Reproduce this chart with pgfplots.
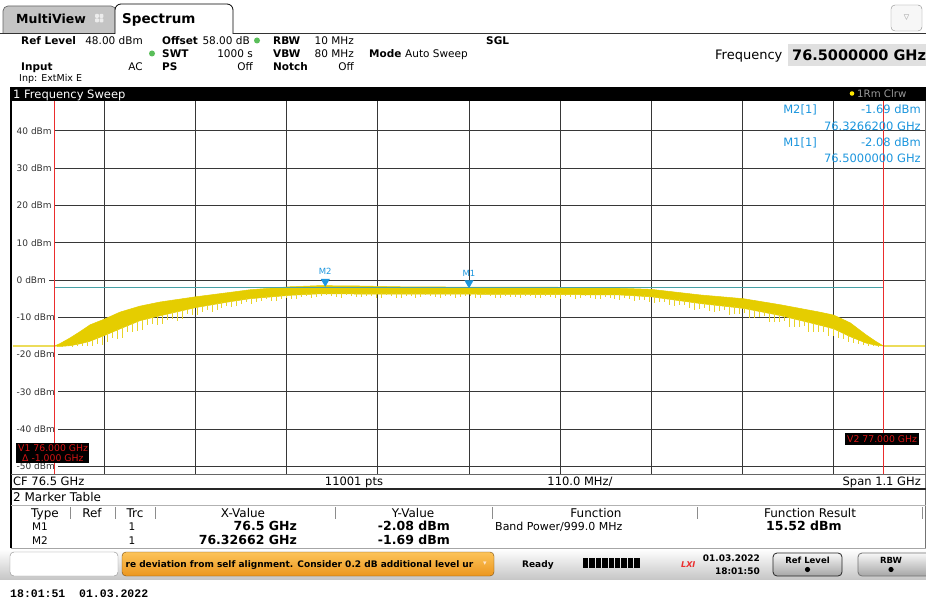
\documentclass[border=0pt]{standalone}
\usepackage{pgfplots}
\pgfplotsset{compat=1.18}
\usepackage{fontspec}
\setmainfont{DejaVu Sans}
\newfontfamily\lmono{Liberation Mono}
\definecolor{trc}{RGB}{229,205,0}
\definecolor{trcl}{RGB}{236,220,90}
\definecolor{trcs}{RGB}{232,211,40}
\definecolor{mblue}{RGB}{28,150,222}
\definecolor{tealc}{RGB}{70,160,165}
\definecolor{vred}{RGB}{235,45,45}
\definecolor{vtxt}{RGB}{215,20,20}
\definecolor{gridc}{RGB}{55,55,55}
\definecolor{tabgray}{RGB}{196,196,196}
\definecolor{ortop}{RGB}{252,196,90}
\definecolor{orbot}{RGB}{236,150,30}
\definecolor{dotg}{RGB}{90,190,90}
\newcommand{\fs}[1]{\fontsize{#1}{#1}\selectfont}
\pgfplotsset{spikes/.style={draw=none, mark=none, forget plot,
  error bars/.cd, y dir=minus, y explicit, error mark=none,
  error bar style={draw=trcs, line width=0.9pt}}}
\begin{document}
\begin{tikzpicture}
\path[use as bounding box, fill=white] (0pt,0pt) rectangle (926pt,-601pt);
\begin{axis}[
  at={(13pt,-474pt)}, anchor=south west, scale only axis,
  width=912pt, height=373pt,
  xmin=75.95, xmax=77.05, ymin=-52, ymax=48,
  xtick={76.06,76.17,76.28,76.39,76.50,76.61,76.72,76.83,76.94},
  xticklabels={},
  ytick={-50,-40,-30,-20,-10,0,10,20,30,40},
  yticklabels={-50 dBm,-40 dBm,-30 dBm,-20 dBm,-10 dBm,0 dBm,10 dBm,20 dBm,30 dBm,40 dBm},
  yticklabel style={anchor=west, xshift=0pt, fill=white, inner ysep=0.8pt, inner xsep=3.5pt, font=\fs{9}, text=black!80},
  major tick length=0pt,
  grid=major, major grid style={draw=gridc, line width=0.9pt},
  axis line style={draw=none},
  clip=true,
]
% trace band (upper envelope, then lower envelope back)
\addplot[fill=trc, draw=trc, line width=0.5pt] table {
76.000 -17.7
76.007 -17.0
76.019 -15.5
76.031 -13.8
76.043 -12.0
76.060 -10.5
76.079 -8.6
76.103 -7.0
76.127 -5.9
76.170 -4.5
76.212 -3.3
76.236 -2.6
76.284 -1.8
76.320 -1.5
76.369 -1.6
76.417 -1.8
76.500 -1.9
76.598 -1.9
76.682 -2.2
76.720 -2.5
76.779 -4.0
76.831 -5.0
76.875 -6.6
76.923 -8.6
76.940 -9.4
76.960 -11.5
76.979 -14.7
76.991 -16.5
77.000 -17.7
76.991 -17.5
76.979 -16.9
76.960 -15.2
76.940 -13.1
76.923 -12.1
76.875 -9.5
76.831 -7.6
76.779 -6.3
76.720 -4.5
76.682 -4.0
76.598 -3.9
76.500 -3.8
76.417 -3.8
76.320 -3.7
76.284 -4.1
76.236 -5.0
76.212 -5.8
76.170 -7.4
76.127 -9.6
76.103 -10.9
76.079 -13.1
76.060 -14.9
76.043 -16.4
76.031 -17.1
76.019 -17.6
76.007 -17.8
76.000 -17.7
};
% downward spikes of the trace
\addplot[spikes] table[x=f, y=L, y error minus=d] {
f L d
76.004 -17.6 0.2
76.016 -17.5 0.3
76.028 -17.0 0.8
76.040 -16.4 1.2
76.052 -15.4 1.8
76.064 -14.3 2.2
76.076 -13.2 2.6
76.088 -12.1 1.9
76.100 -11.0 2.6
76.112 -10.2 1.9
76.124 -9.6 2.4
76.136 -9.0 1.6
76.148 -8.3 2.6
76.160 -7.7 1.5
76.172 -7.1 2.3
76.184 -6.7 1.2
76.196 -6.2 1.9
76.208 -5.8 1.1
76.220 -5.3 1.7
76.232 -4.9 1.0
76.244 -4.7 1.3
76.256 -4.4 0.8
76.268 -4.2 1.3
76.280 -4.0 0.7
76.292 -3.8 1.2
76.304 -3.6 0.8
76.316 -3.5 1.1
76.328 -3.4 0.7
76.340 -3.4 1.1
76.352 -3.4 0.6
76.364 -3.4 1.2
76.376 -3.5 0.7
76.388 -3.5 1.3
76.400 -3.5 0.6
76.412 -3.5 1.2
76.424 -3.5 0.7
76.436 -3.5 1.4
76.448 -3.5 0.6
76.460 -3.5 1.1
76.472 -3.5 0.8
76.484 -3.5 1.3
76.496 -3.5 0.7
76.508 -3.5 1.2
76.520 -3.5 0.6
76.532 -3.6 1.3
76.544 -3.6 0.7
76.556 -3.6 1.0
76.568 -3.6 0.6
76.580 -3.6 1.3
76.592 -3.6 0.7
76.604 -3.6 1.1
76.616 -3.7 0.7
76.628 -3.7 1.3
76.640 -3.7 0.7
76.652 -3.8 1.3
76.664 -3.8 0.8
76.676 -3.8 1.4
76.688 -3.9 1.0
76.700 -4.0 1.6
76.712 -4.1 1.2
76.724 -4.3 1.9
76.736 -4.7 1.2
76.748 -5.1 1.9
76.760 -5.4 1.2
76.772 -5.8 2.1
76.784 -6.1 1.3
76.796 -6.4 2.2
76.808 -6.7 1.2
76.820 -7.0 2.2
76.832 -7.4 1.4
76.844 -7.9 2.2
76.856 -8.4 1.3
76.868 -8.9 2.3
76.880 -9.5 1.5
76.892 -10.1 2.5
76.904 -10.8 1.5
76.916 -11.4 2.6
76.928 -12.1 1.7
76.940 -12.8 2.3
76.952 -14.1 1.8
76.964 -15.4 1.4
76.976 -16.6 0.8
76.988 -17.3 0.4
};
\addplot[spikes] table[x=f, y=L, y error minus=d] {
f L d
76.010 -17.7 0.2
76.022 -17.4 0.5
76.034 -16.8 1.0
76.046 -16.0 1.6
76.058 -14.9 2.4
76.070 -13.8 1.7
76.082 -12.7 2.8
76.094 -11.6 2.2
76.106 -10.6 2.9
76.118 -9.9 2.0
76.130 -9.3 2.6
76.142 -8.7 1.8
76.154 -8.0 2.4
76.166 -7.4 1.9
76.178 -6.9 1.6
76.190 -6.5 2.1
76.202 -6.0 1.4
76.214 -5.5 1.6
76.226 -5.1 1.2
76.238 -4.8 1.5
76.250 -4.5 1.0
76.262 -4.3 1.4
76.274 -4.1 0.9
76.286 -3.9 1.3
76.298 -3.7 0.9
76.310 -3.5 1.2
76.322 -3.4 0.8
76.334 -3.4 1.0
76.346 -3.4 1.3
76.358 -3.4 0.8
76.370 -3.4 1.1
76.382 -3.5 0.9
76.394 -3.5 1.2
76.406 -3.5 0.8
76.418 -3.5 1.3
76.430 -3.5 0.9
76.442 -3.5 1.1
76.454 -3.5 0.7
76.466 -3.5 1.3
76.478 -3.5 0.9
76.490 -3.5 1.1
76.502 -3.5 0.8
76.514 -3.5 1.4
76.526 -3.5 0.8
76.538 -3.6 1.1
76.550 -3.6 0.9
76.562 -3.6 1.3
76.574 -3.6 0.8
76.586 -3.6 1.1
76.598 -3.6 0.9
76.610 -3.6 1.4
76.622 -3.7 0.9
76.634 -3.7 1.1
76.646 -3.7 1.0
76.658 -3.8 1.2
76.670 -3.8 1.0
76.682 -3.8 1.5
76.694 -3.9 1.2
76.706 -4.0 1.4
76.718 -4.2 1.7
76.730 -4.5 1.5
76.742 -4.9 1.8
76.754 -5.2 1.6
76.766 -5.6 1.9
76.778 -6.0 1.7
76.790 -6.3 2.0
76.802 -6.6 1.8
76.814 -6.9 2.4
76.826 -7.2 1.9
76.838 -7.6 2.6
76.850 -8.1 1.9
76.862 -8.6 2.7
76.874 -9.2 2.0
76.886 -9.8 2.8
76.898 -10.4 2.1
76.910 -11.1 2.9
76.922 -11.7 2.2
76.934 -12.5 2.6
76.946 -13.4 2.2
76.958 -14.8 1.7
76.970 -16.0 1.2
76.982 -17.0 0.6
76.994 -17.6 0.2
};
% flat parts of the trace outside the band
\addplot[trcl, line width=1.2pt] coordinates {(75.95,-17.7) (76.0,-17.7)};
\addplot[trcl, line width=1.2pt] coordinates {(77.0,-17.7) (77.05,-17.7)};
% display line
\addplot[tealc, line width=0.8pt] coordinates {(76.0,-1.9) (77.0,-1.9)};
% vertical lines V1, V2
\addplot[vred, line width=0.8pt] coordinates {(76.0,-52) (76.0,48)};
\addplot[vred, line width=0.8pt] coordinates {(77.0,-52) (77.0,48)};
% markers
\addplot[only marks, mark=triangle*, mark size=4.8pt, mark options={yshift=4.8pt, rotate=180, fill=mblue, draw=mblue}] coordinates {(76.32662,-1.69) (76.5,-2.08)};
\node[font=\fs{8.5}, text=mblue, inner sep=0pt, yshift=15pt] at (axis cs:76.32662,-1.69) {M2};
\node[font=\fs{8.5}, text=mblue, inner sep=0pt, yshift=14pt] at (axis cs:76.5,-2.08) {M1};
\end{axis}

\begin{scope}[x=1pt, y=-1pt, every node/.style={inner sep=0pt},
   tw/.style={anchor=base west}, te/.style={anchor=base east}, tc/.style={anchor=base},
   hb/.style={font=\fs{10.5}\bfseries}, hr/.style={font=\fs{10.5}}]
% ---------- tabs ----------
\filldraw[fill=tabgray, draw=black!60, line width=0.7pt, rounded corners=5pt] (3,33) -- (3,6) -- (116,6) -- (116,33);
\node[tw, font=\fs{12.5}\bfseries] at (16,24) {MultiView};
\foreach \i/\j in {0/0,1/0,0/1,1/1} \fill[white!85!gray, rounded corners=0.8pt] (95+4.5*\i,14+4.5*\j) rectangle +(3.8,3.8);
\draw[black!80, line width=0.8pt] (0,33) -- (115,33);
\draw[black!80, line width=0.8pt] (233,33) -- (926,33);
\filldraw[fill=white, draw=black, line width=0.8pt, rounded corners=6pt] (115,34) -- (115,4) -- (233,4) -- (233,34);
\fill[white] (116,32) rectangle (232,35);
\node[tw, font=\fs{13.5}\bfseries] at (122,24) {Spectrum};
\filldraw[fill=black!3, draw=black!45, rounded corners=4pt] (891,5) rectangle (922,31);
\node[font=\fs{7}, text=black!45] at (906.5,18) {▽};
% ---------- header ----------
\node[tw,hb] at (21,44.5) {Ref Level};
\node[te,hr] at (143,44.5) {48.00 dBm};
\node[tw,hb] at (162,44.5) {Offset};
\node[te,hr] at (250,44.5) {58.00 dB};
\fill[dotg] (257,40.5) circle (3);
\node[tw,hb] at (273,44.5) {RBW};
\node[te,hr] at (354,44.5) {10 MHz};
\node[tw,hb] at (486,44.5) {SGL};
\fill[dotg] (152,53.5) circle (3);
\node[tw,hb] at (162,57.5) {SWT};
\node[te,hr] at (253,57.5) {1000 s};
\node[tw,hb] at (273,57.5) {VBW};
\node[te,hr] at (354,57.5) {80 MHz};
\node[tw,hb] at (369,57.5) {Mode};
\node[tw,hr] at (405,57.5) {Auto Sweep};
\node[tw,hb] at (21,70.5) {Input};
\node[te,hr] at (143,70.5) {AC};
\node[tw,hb] at (162,70.5) {PS};
\node[te,hr] at (253,70.5) {Off};
\node[tw,hb] at (273,70.5) {Notch};
\node[te,hr] at (354,70.5) {Off};
\node[tw,font=\fs{9.5}] at (19,82) {Inp: ExtMix E};
\node[tw,font=\fs{13}] at (715,59.5) {Frequency};
\fill[black!12] (788,44) rectangle (926,66);
\node[tw,font=\fs{14.5}\bfseries] at (792,60.5) {76.5000000 GHz};
% ---------- window title bar ----------
\fill[black] (10,87) rectangle (926,101);
\node[tw,font=\fs{11.5},text=white] at (13,98.5) {1 Frequency Sweep};
\fill[yellow!90!orange] (852,93.5) circle (2.3);
\node[tw,font=\fs{10.2},text=black!40] at (857,98) {1Rm Clrw};
% ---------- frame ----------
\draw[black, line width=2pt] (11,87) -- (11,548);
\draw[black!55, line width=0.8pt] (925.5,101) -- (925.5,548);
\draw[black!60, line width=1pt] (11,474) -- (926,474);
\draw[black!85, line width=1.5pt] (11,489) -- (926,489);
% ---------- marker info ----------
\node[te,font=\fs{11.5},text=mblue] at (817,114) {M2[1]};
\node[te,font=\fs{11.5},text=mblue] at (921,114) {-1.69 dBm};
\node[te,font=\fs{11.5},text=mblue] at (921,131) {76.3266200 GHz};
\node[te,font=\fs{11.5},text=mblue] at (817,147) {M1[1]};
\node[te,font=\fs{11.5},text=mblue] at (921,147) {-2.08 dBm};
\node[te,font=\fs{11.5},text=mblue] at (921,163) {76.5000000 GHz};
% ---------- V1/V2 labels ----------
\fill[black] (16,443) rectangle (89,463);
\node[tw,font=\fs{9.3},text=vtxt] at (18,451.5) {V1 76.000 GHz};
\node[tw,font=\fs{9.3},text=vtxt] at (22,461) {Δ -1.000 GHz};
\fill[black] (845,433) rectangle (919,445);
\node[tw,font=\fs{9.3},text=vtxt] at (847,442.5) {V2 77.000 GHz};
% ---------- status row ----------
\node[tw,font=\fs{11.5}] at (13,485.5) {CF 76.5 GHz};
\node[tc,font=\fs{11.5}] at (354,485.5) {11001 pts};
\node[tc,font=\fs{11.5}] at (580,485.5) {110.0 MHz/};
\node[te,font=\fs{11.5}] at (921,485.5) {Span 1.1 GHz};
% ---------- marker table ----------
\node[tw,font=\fs{12}] at (13,501.5) {2 Marker Table};
\draw[black!30, line width=0.8pt] (11,505.5) -- (926,505.5);
\foreach \x in {70,115,155,335,492,697,922} \draw[black!45, line width=0.8pt] (\x,507) -- (\x,519);
\node[tc,font=\fs{12}] at (45,517) {Type};
\node[tc,font=\fs{12}] at (92,517) {Ref};
\node[tc,font=\fs{12}] at (135,517) {Trc};
\node[tc,font=\fs{12}] at (243,517) {X-Value};
\node[tc,font=\fs{12}] at (413,517) {Y-Value};
\node[tc,font=\fs{12}] at (596,517) {Function};
\node[tc,font=\fs{12}] at (810,517) {Function Result};
\node[tc,font=\fs{10.5}] at (40,530.5) {M1};
\node[tc,font=\fs{10.5}] at (132,530.5) {1};
\node[te,font=\fs{12.5}\bfseries] at (297,530.5) {76.5 GHz};
\node[te,font=\fs{12.5}\bfseries] at (450,530.5) {-2.08 dBm};
\node[tw,font=\fs{11}] at (495,530.5) {Band Power/999.0 MHz};
\node[tw,font=\fs{12.5}\bfseries] at (766,530.5) {15.52 dBm};
\node[tc,font=\fs{10.5}] at (40,544.5) {M2};
\node[tc,font=\fs{10.5}] at (132,544.5) {1};
\node[te,font=\fs{12.5}\bfseries] at (297,544.5) {76.32662 GHz};
\node[te,font=\fs{12.5}\bfseries] at (450,544.5) {-1.69 dBm};
\draw[black!35, line width=0.8pt] (11,548.5) -- (926,548.5);
% ---------- status bar ----------
\shade[top color=white, bottom color=black!22] (0,549) rectangle (926,579);
\filldraw[fill=white, draw=black!45, rounded corners=4pt] (10,552) rectangle (118,576);
\shadedraw[top color=ortop, bottom color=orbot, draw=black!50!orbot, rounded corners=4pt] (122,552) rectangle (494,576);
\begin{scope}
\clip (125,552) rectangle (491,576);
\node[tw,font=\fs{9}\bfseries] at (119,567.5) {ure deviation from self alignment. Consider 0.2 dB additional level ur};
\end{scope}
\node[font=\fs{7},text=white!80!orange] at (485,564) {▾};
\node[tw,font=\fs{9}\bfseries] at (522,567) {Ready};
\foreach \i in {0,...,8} \fill[black] (583+6.4*\i,558) rectangle +(5.4,10);
\node[tw,font=\fs{8}\bfseries\itshape,text=vred] at (681,567) {LXI};
\node[te,font=\fs{9}\bfseries] at (760,561) {01.03.2022};
\node[te,font=\fs{9}\bfseries] at (760,574) {18:01:50};
\shadedraw[top color=black!3, bottom color=black!35, draw=black!85, line width=0.8pt, rounded corners=4pt] (773,553) rectangle (842,576);
\node[tc,font=\fs{8.5}\bfseries] at (807.5,563) {Ref Level};
\fill[black] (807.5,569.5) circle (2.6);
\shadedraw[top color=black!3, bottom color=black!35, draw=black!55, line width=0.8pt, rounded corners=4pt] (858,553) rectangle (930,576);
\node[tc,font=\fs{8.5}\bfseries] at (891,563) {RBW};
\fill[black] (891,569.5) circle (2.6);
% ---------- timestamp ----------
\node[tw,font=\lmono\fs{11.5}\bfseries] at (10,597) {18:01:51\ \ 01.03.2022};
\end{scope}
\end{tikzpicture}
\end{document}
